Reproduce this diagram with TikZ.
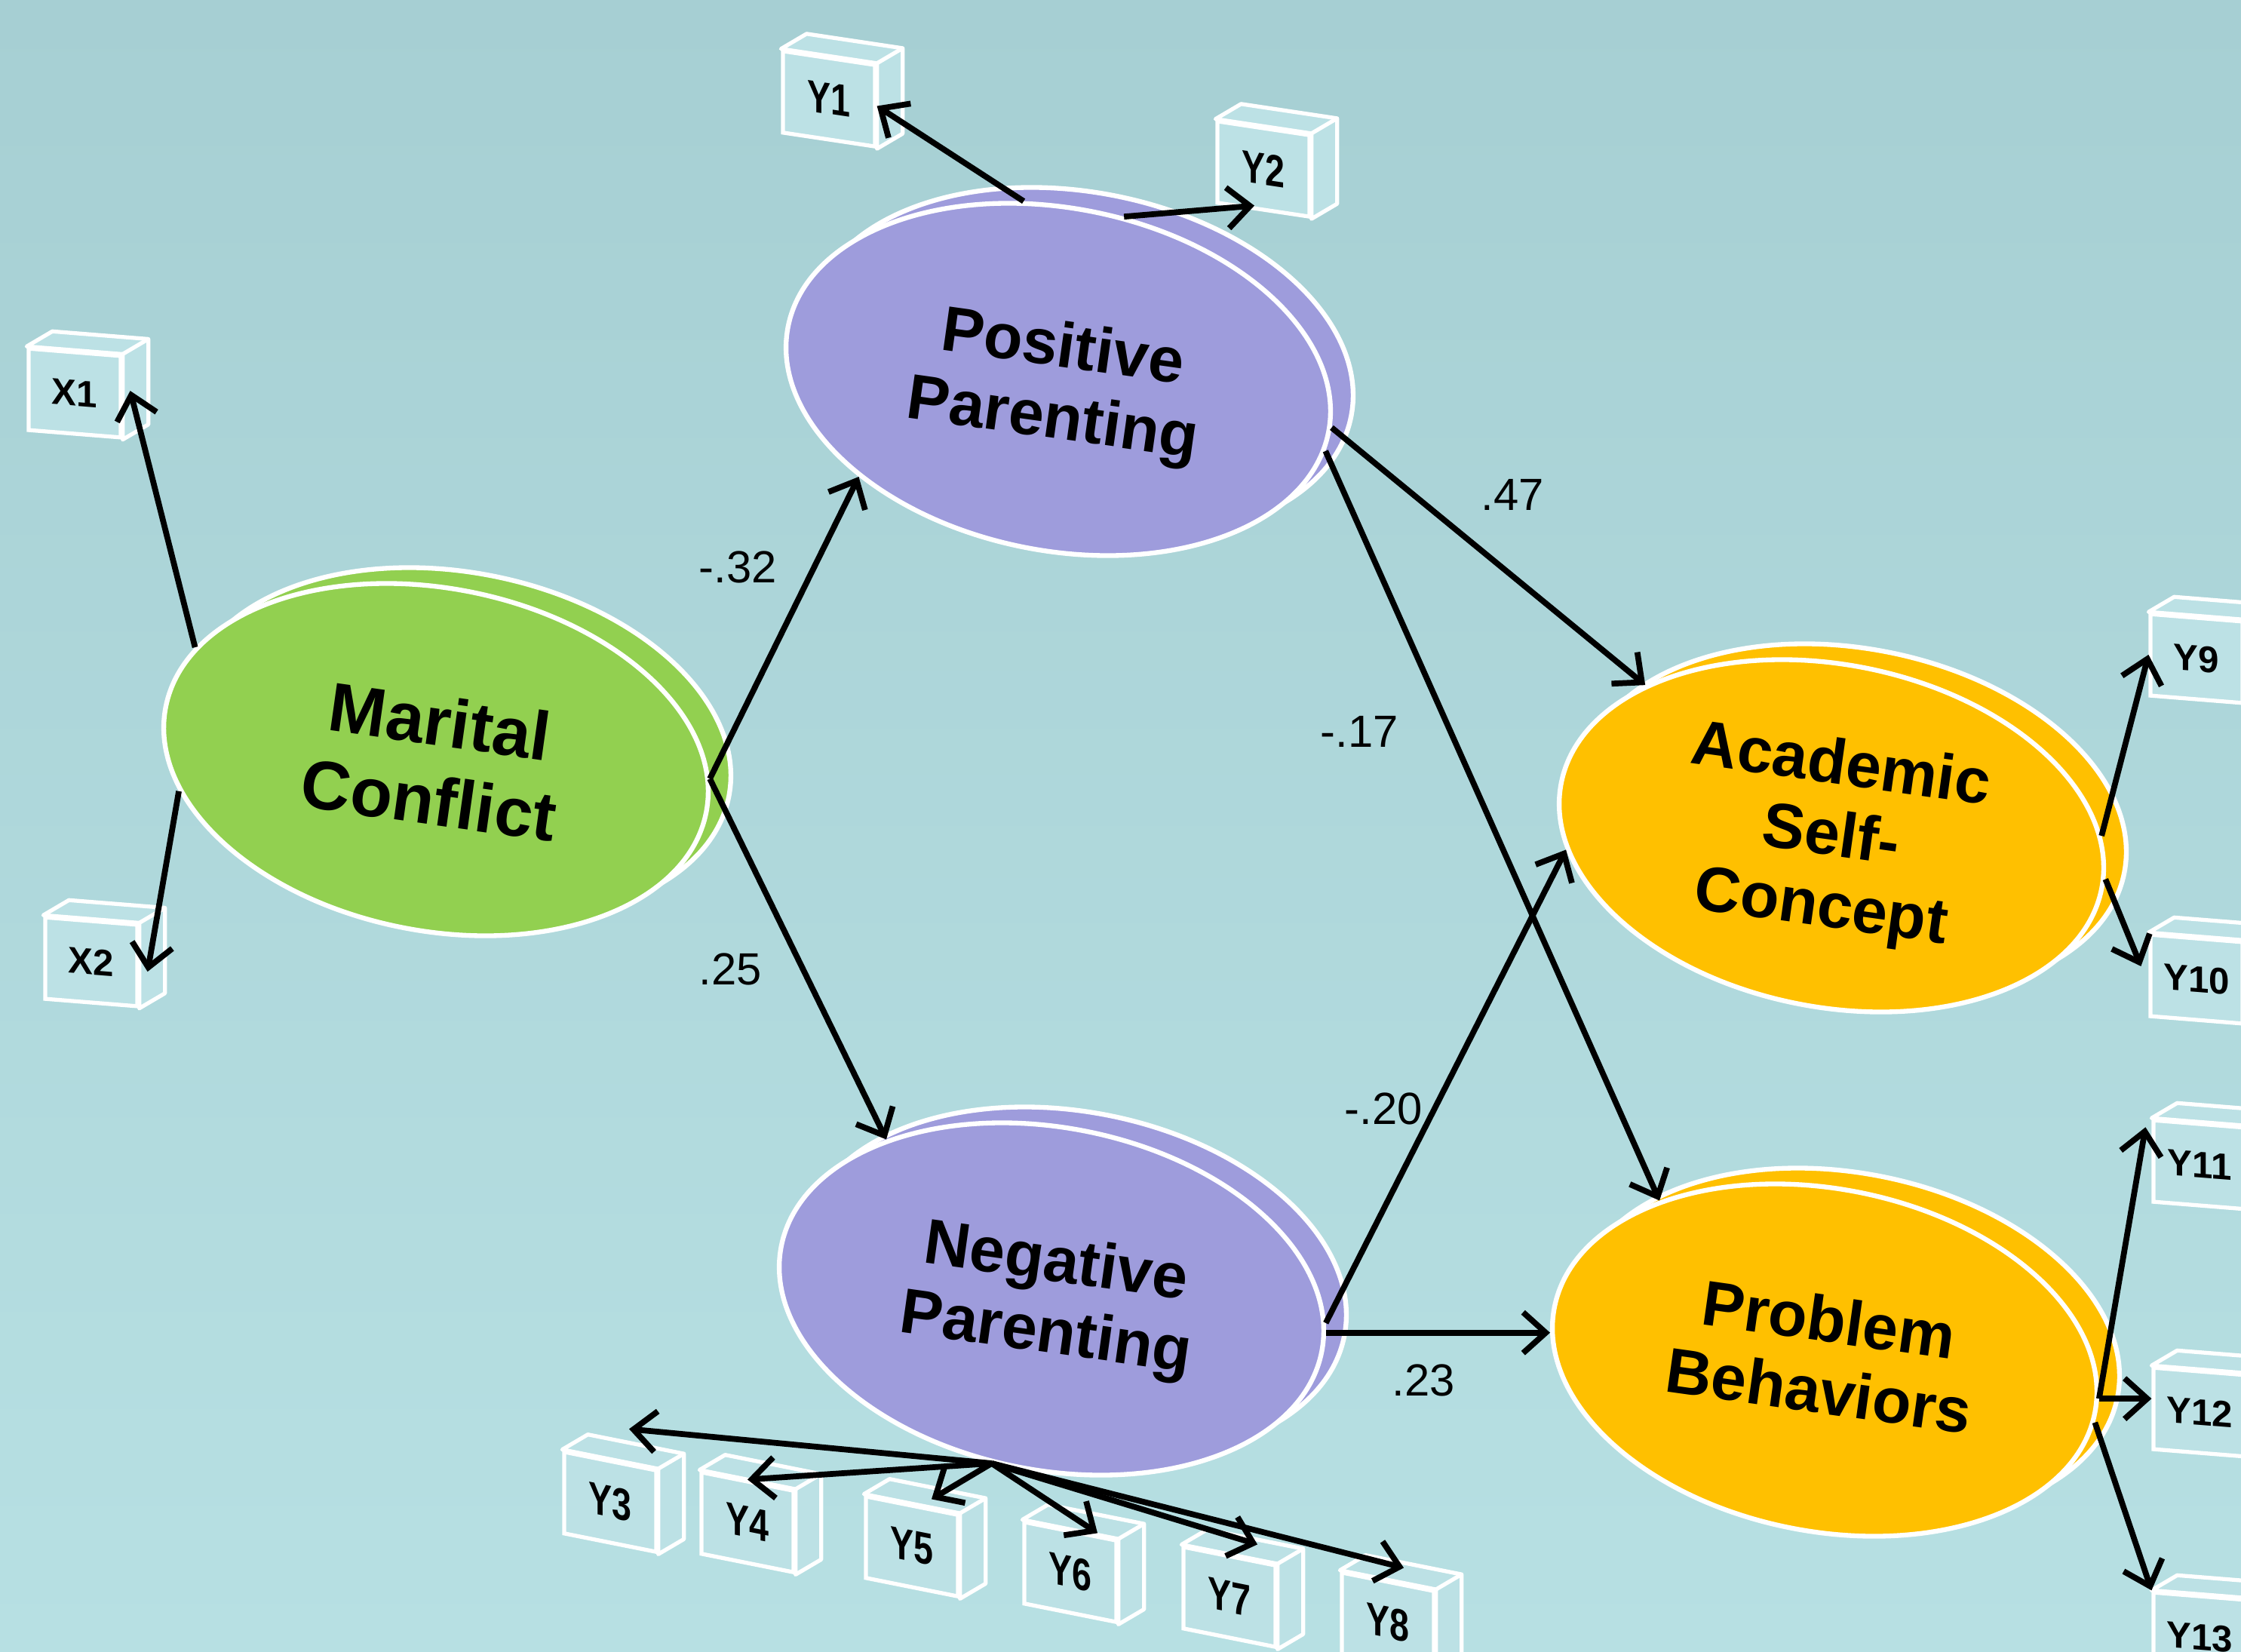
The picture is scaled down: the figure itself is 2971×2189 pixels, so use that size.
\documentclass[tikz,border=0pt]{standalone}
\usepackage{fontspec}
\setmainfont{Liberation Sans}
\newfontfamily\narrowfont[FakeStretch=0.78]{Liberation Sans}
\usepackage{tikz}
\usetikzlibrary{arrows.meta, calc, shapes.geometric}
\definecolor{bgtop}{RGB}{166,207,211}
\definecolor{bgbot}{RGB}{183,224,227}
\definecolor{boxfill}{RGB}{188,225,229}
\definecolor{mcgreen}{RGB}{146,208,80}
\definecolor{parpurple}{RGB}{158,156,220}
\definecolor{outorange}{RGB}{255,192,0}

\begin{document}
\begin{tikzpicture}[
    x=0.1mm, y=-0.1mm,
    >={Straight Barb[length=3mm, width=5.4mm]},
    latent/.style={ellipse, draw=white, line width=1.8pt, minimum width=73mm, minimum height=45.4mm, inner sep=0pt, rotate=-11},
    lbl/.style={align=center, font=\bfseries\fontsize{24}{27}\selectfont, rotate=-8},
    obs/.style={draw=white, fill=boxfill, line width=1.5pt, minimum width=12.2mm, minimum height=10.8mm, inner sep=0pt, font=\bfseries\fontsize{14}{14}\selectfont},
    obsn/.style={obs, font=\narrowfont\bfseries\fontsize{17}{17}\selectfont},
    face/.style={draw=white, fill=boxfill, line width=1.5pt, line join=round},
    arr/.style={->, line width=2.2pt},
    coef/.style={font=\fontsize{17}{17}\selectfont},
]
    \useasboundingbox (0,0) rectangle (2971,2189);
    \clip (0,0) rectangle (2971,2189);
    \fill[top color=bgtop, bottom color=bgbot] (0,0) rectangle (2971,2189);

    % latent variables (back disc, then front)
    \node[latent, fill=mcgreen] (mc-back) at (608,986) {};
    \node[latent, fill=mcgreen] (mc) at (578,1007) {};
    \node[latent, fill=parpurple] (pp-back) at (1433,482) {};
    \node[latent, fill=parpurple] (pp) at (1403,503) {};
    \node[latent, fill=parpurple] (np-back) at (1424,1701) {};
    \node[latent, fill=parpurple] (np) at (1394,1722) {};
    \node[latent, fill=outorange] (asc-back) at (2458,1087) {};
    \node[latent, fill=outorange] (asc) at (2428,1108) {};
    \node[latent, fill=outorange] (pb-back) at (2449,1782) {};
    \node[latent, fill=outorange] (pb) at (2419,1803) {};

    \node[lbl, font=\bfseries\fontsize{26}{30}\selectfont] (mc-t) at (576,1008) {Marital\\Conflict};
    \node[lbl] (pp-t) at (1402,512) {Positive\\Parenting};
    \node[lbl] (np-t) at (1393,1724) {Negative\\Parenting};
    \node[lbl] (asc-t) at (2427,1112) {Academic\\Self-\\Concept};
    \node[lbl] (pb-t) at (2418,1796) {Problem\\Behaviors};

    % indicators
    \node[obs, yslant=-0.08] (x1) at (99,521) {X1};
    \node[obs, yslant=-0.08] (x2) at (121,1275) {X2};
    \node[obsn, yslant=-0.15] (y1) at (1099,131) {Y1};
    \node[obsn, yslant=-0.15] (y2) at (1675,224) {Y2};
    \node[obsn, yslant=-0.2] (y3) at (809,1991) {Y3};
    \node[obsn, yslant=-0.2] (y4) at (991,2018) {Y4};
    \node[obsn, yslant=-0.2] (y5) at (1209,2050) {Y5};
    \node[obsn, yslant=-0.2] (y6) at (1419,2084) {Y6};
    \node[obsn, yslant=-0.2] (y7) at (1630,2117) {Y7};
    \node[obsn, yslant=-0.2] (y8) at (1840,2151) {Y8};
    \node[obs, yslant=-0.08] (y9) at (2912,873) {Y9};
    \node[obs, yslant=-0.08] (y10) at (2912,1298) {Y10};
    \node[obs, yslant=-0.08] (y11) at (2916,1544) {Y11};
    \node[obs, yslant=-0.08] (y12) at (2916,1872) {Y12};
    \node[obs, yslant=-0.08] (y13) at (2916,2170) {Y13};
    \foreach \b in {x1,x2,y1,y2,y3,y4,y5,y6,y7,y8,y9,y10,y11,y12,y13} {
        \path[face] (\b.north west) -- ++(34,-20) -- ($(\b.north east)+(34,-20)$)
            -- ($(\b.south east)+(34,-20)$) -- (\b.south east) -- (\b.north east) -- cycle;
        \draw[face] (\b.north east) -- ++(34,-20);
    }

    % structural paths
    \draw[arr] (mc.7) -- (pp.217);
    \draw[arr] (mc.7) -- (np.147);
    \draw[arr] (pp.1) -- (asc.152);
    \draw[arr] (pp.356) -- (pb.147);
    \draw[arr] (np.6) -- (asc.194);
    \draw[arr] (np.4) -- (np.4 -| pb.185);

    \node[coef] (c-mc-pp) at (978,752) {-.32};
    \node[coef] (c-mc-np) at (968,1285) {.25};
    \node[coef] (c-pp-asc) at (2005,656) {.47};
    \node[coef] (c-pp-pb) at (1802,970) {-.17};
    \node[coef] (c-np-asc) at (1834,1470) {-.20};
    \node[coef] (c-np-pb) at (1887,1830) {.23};

    % loadings
    \draw[arr] (mc.166) -- ($(x1.east)+(10,-8)$);
    \draw[arr] (mc.198) -- ($(x2.east)+(11,8)$);
    \draw[arr] (pp.112) -- (y1.east);
    \draw[arr] (pp.79) -- ($(y2.south)+(-12,-8)$);
    \draw[arr] (np.261) -- ($(y3.north)+(25,-40)$);
    \draw[arr] (np.261) -- (y4.north);
    \draw[arr] (np.261) -- ($(y5.north)+(26,-6)$);
    \draw[arr] (np.261) -- ($(y6.north)+(36,5)$);
    \draw[arr] (np.261) -- ($(y7.north)+(37,-13)$);
    \draw[arr] (np.261) -- ($(y8.north)+(21,-16)$);
    \draw[arr] (asc.11) -- (y9.west);
    \draw[arr] (asc.2) -- ($(y10.west)+(-10,-12)$);
    \draw[arr] (pb.3) -- ($(y11.north west)+(-8,12)$);
    \draw[arr] (pb.3) -- (pb.3 -| y12.west);
    \draw[arr] (pb.358) -- (y13.north west);
\end{tikzpicture}
\end{document}
